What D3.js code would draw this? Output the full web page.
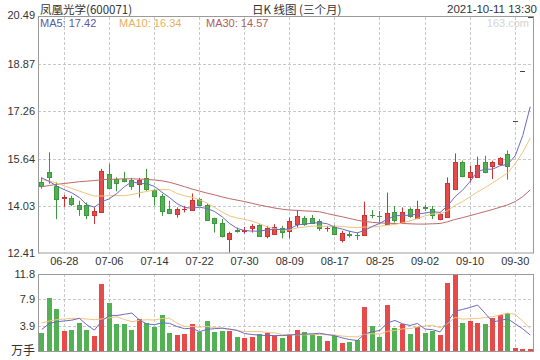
<!DOCTYPE html>
<html><head><meta charset="utf-8">
<script src="https://cdn.jsdelivr.net/npm/d3@7"></script>
<style>
body{margin:0;background:#fff}
svg{display:block}
text{font-family:"Liberation Sans",Arial,sans-serif}
.cjk{font-family:"Noto Sans CJK SC","Liberation Sans",sans-serif}
</style>
</head><body>
<svg id="c" width="540" height="360"></svg>
<script>
// ---- data ----
const openP  = [14.83,15.17,14.71,14.30,14.28,14.06,14.06,13.72,13.83,15.12,14.96,14.94,14.92,14.77,14.98,14.56,14.37,13.93,13.76,13.90,13.88,14.26,14.06,13.60,13.45,12.88,13.20,13.18,13.26,13.37,12.99,13.07,13.25,13.17,13.40,13.62,13.62,13.51,13.25,13.31,12.85,13.07,13.03,13.03,13.72,13.69,13.42,13.83,13.45,13.91,13.60,13.98,13.91,13.57,13.65,14.60,15.51,15.01,15.01,15.51,15.39,15.46,15.80,16.94,18.63,20.49];
const highP  = [15.00,15.86,14.83,14.40,14.37,14.20,14.14,13.97,15.29,15.46,15.00,15.19,14.98,14.98,15.29,14.60,14.43,14.20,13.97,14.02,14.45,14.29,14.10,13.62,13.57,13.14,13.28,13.30,13.40,13.40,13.34,13.40,13.34,13.62,13.88,13.68,13.71,13.57,13.34,13.37,13.17,13.17,13.11,14.17,13.88,13.85,14.48,14.02,13.97,13.97,14.20,14.06,14.02,13.79,15.00,15.82,15.57,15.40,15.71,15.74,15.57,15.69,15.92,16.94,18.63,20.49];
const lowP   = [14.61,14.78,13.57,13.99,14.02,13.68,13.57,13.40,13.80,14.63,14.52,14.83,14.57,14.31,14.54,14.03,13.68,13.76,13.62,13.80,13.85,14.03,13.51,13.11,12.94,12.42,13.11,13.08,13.11,12.96,12.91,13.05,12.91,12.91,13.28,13.34,13.40,13.17,13.14,13.02,12.77,12.94,12.86,12.99,13.60,13.46,13.40,13.45,13.42,13.62,13.57,13.85,13.57,13.53,13.62,14.56,15.00,14.83,15.00,15.14,14.94,15.40,14.92,16.94,18.63,20.49];
const closeP = [14.71,15.00,14.26,14.32,14.08,13.91,13.72,13.85,15.23,14.65,14.79,14.86,14.71,14.92,14.60,14.37,13.85,13.79,13.91,13.92,14.22,14.05,13.53,13.45,12.99,13.09,13.18,13.21,13.34,12.99,13.26,13.31,13.13,13.49,13.68,13.40,13.45,13.25,13.28,13.05,13.11,13.04,13.01,13.72,13.70,13.67,13.77,13.53,13.83,13.68,13.91,13.95,13.71,13.74,14.79,15.51,15.06,15.20,15.44,15.18,15.51,15.65,15.40,16.94,18.63,20.49];
const volume = [2.80,8.17,6.43,3.06,3.17,4.24,3.17,2.30,10.26,7.31,4.14,4.14,3.22,4.90,4.24,3.72,5.52,2.80,2.45,2.60,4.09,2.86,4.60,2.96,3.06,3.11,2.19,2.04,2.19,2.60,2.76,2.30,1.94,2.56,3.22,2.86,2.60,2.35,1.58,2.30,1.18,1.33,1.69,6.69,3.88,2.19,7.05,3.57,4.14,2.60,3.72,2.80,3.06,2.45,10.37,11.75,4.24,4.60,4.24,4.09,5.01,5.52,5.78,0.41,0.26,0.26];
const ma5  = [14.98,14.86,14.70,14.58,14.47,14.31,14.06,13.98,14.16,14.27,14.45,14.68,14.85,14.79,14.78,14.69,14.49,14.31,14.10,13.97,13.94,13.98,13.93,13.83,13.65,13.42,13.25,13.18,13.16,13.16,13.20,13.22,13.21,13.24,13.37,13.40,13.43,13.45,13.41,13.29,13.23,13.15,13.10,13.19,13.32,13.43,13.57,13.68,13.70,13.70,13.74,13.78,13.82,13.80,14.02,14.34,14.56,14.86,15.20,15.28,15.28,15.40,15.44,15.74,16.43,17.42];
const ma10 = [14.92,14.88,14.80,14.71,14.62,14.53,14.44,14.36,14.36,14.37,14.38,14.37,14.41,14.47,14.52,14.57,14.58,14.58,14.45,14.37,14.32,14.23,14.12,13.97,13.81,13.68,13.61,13.56,13.50,13.41,13.31,13.24,13.20,13.20,13.27,13.30,13.33,13.33,13.32,13.33,13.32,13.29,13.28,13.30,13.30,13.33,13.36,13.39,13.44,13.51,13.59,13.68,13.75,13.75,13.86,14.04,14.17,14.34,14.50,14.65,14.81,14.98,15.15,15.47,15.85,16.35];
const ma30 = [14.68,14.72,14.76,14.79,14.82,14.85,14.87,14.89,14.92,14.93,14.94,14.95,14.95,14.94,14.93,14.91,14.88,14.83,14.76,14.68,14.60,14.53,14.46,14.40,14.33,14.27,14.22,14.17,14.11,14.05,14.00,13.95,13.91,13.88,13.87,13.85,13.84,13.82,13.76,13.70,13.65,13.59,13.53,13.49,13.46,13.44,13.43,13.42,13.42,13.41,13.40,13.40,13.41,13.42,13.48,13.56,13.62,13.69,13.76,13.83,13.90,13.98,14.06,14.17,14.34,14.57];
const vma5  = [3.30,4.20,4.50,4.60,4.73,5.01,4.01,3.19,4.63,5.46,5.44,5.63,5.81,4.74,4.13,4.04,4.32,4.24,3.75,3.42,3.49,2.96,3.32,3.42,3.51,3.32,3.18,2.67,2.52,2.43,2.36,2.38,2.36,2.43,2.56,2.58,2.64,2.72,2.52,2.34,2.00,1.75,1.62,2.64,2.95,3.16,4.30,4.68,4.17,3.91,4.22,3.37,3.26,2.93,4.48,6.09,6.37,6.68,7.04,5.78,4.44,4.69,4.93,4.16,3.40,2.45];
const vma10 = [4.30,4.60,4.80,4.90,5.00,5.00,4.90,4.80,4.90,5.09,5.23,4.82,4.50,4.69,4.79,4.74,4.98,5.03,4.24,3.77,3.77,3.64,3.78,3.58,3.47,3.41,3.07,3.00,2.97,2.97,2.84,2.78,2.52,2.48,2.49,2.47,2.51,2.54,2.48,2.45,2.29,2.19,2.17,2.58,2.65,2.58,3.02,3.15,3.40,3.43,3.69,3.83,3.97,3.55,4.20,5.15,4.87,4.97,4.98,5.13,5.26,5.53,5.81,5.60,4.59,3.44];
const priceTicks = [12.41,14.03,15.64,17.26,18.87,20.49];
const volTicks = [3.9,7.9,11.8];
const tickLabels = ["06-28","07-06","07-14","07-22","07-30","08-09","08-17","08-25","09-02","09-10","09-30"];
const maNames = ["MA5","MA10","MA30"];
const maLast = [17.42,16.34,14.57];

// ---- layout ----
const L=38, R=534, pTop=17, pBot=253, vTop=274, vBot=351;
const RED="#e84a4a", GREEN="#52b152", RED_D="#cc3434", GREEN_D="#3d993d", DOJI="#444";
const C5="#6c6cc0", C10="#f0c47e", C30="#bb6a6a";

const svg=d3.select("#c");
const n=closeP.length, idx=d3.range(n);
const x=d3.scaleBand().domain(idx).range([L,R]).paddingInner(0.33).paddingOuter(0.165);
const bw=x.bandwidth();
const cx=i=>x(i)+bw/2;
const px=i=>Math.floor(cx(i))+0.5;
const y=d3.scaleLinear().domain([12.41,20.49]).range([pBot,pTop]);
const yv=d3.scaleLinear().domain([0,11.8]).range([vBot,vTop]);
const tickIdx=tickLabels.map((d,k)=>3+6*k);

// grids
const grid=svg.append("g").attr("stroke","#c8c8c8").attr("stroke-dasharray","3,2").attr("stroke-width",1);
priceTicks.slice(1,-1).forEach(v=>{const yy=Math.round(y(v))+0.5;grid.append("line").attr("x1",L).attr("x2",R).attr("y1",yy).attr("y2",yy);});
volTicks.slice(0,-1).forEach(v=>{const yy=Math.round(yv(v))+0.5;grid.append("line").attr("x1",L).attr("x2",R).attr("y1",yy).attr("y2",yy);});
tickIdx.forEach(i=>{
  grid.append("line").attr("x1",px(i)).attr("x2",px(i)).attr("y1",pTop).attr("y2",pBot);
  grid.append("line").attr("x1",px(i)).attr("x2",px(i)).attr("y1",vTop).attr("y2",vBot);
});

// candles
const cg=svg.append("g");
idx.forEach(i=>{
  const o=openP[i],c=closeP[i];
  const col=c>o?RED:(c<o?GREEN:DOJI), dk=c>o?RED_D:(c<o?GREEN_D:DOJI);
  cg.append("line").attr("x1",px(i)).attr("x2",px(i)).attr("y1",y(highP[i])).attr("y2",y(lowP[i])).attr("stroke",dk).attr("stroke-width",1);
  const top=Math.round(y(Math.max(o,c))), bot=Math.round(y(Math.min(o,c)));
  const x0=Math.round(cx(i)-2.5);
  if(bot-top<1){
    cg.append("line").attr("x1",x0).attr("x2",x0+5).attr("y1",top+0.5).attr("y2",top+0.5).attr("stroke",dk).attr("stroke-width",1);
  } else {
    cg.append("rect").attr("x",x0+0.5).attr("y",top+0.5).attr("width",4).attr("height",bot-top).attr("fill",col).attr("stroke",dk).attr("stroke-width",1);
  }
});

// MA lines (price)
const pline=d3.line().x((d,i)=>cx(i)).y(d=>y(d));
const mg=svg.append("g").attr("fill","none").attr("stroke-width",1);
mg.append("path").attr("d",pline(ma30)).attr("stroke",C30);
mg.append("path").attr("d",pline(ma10)).attr("stroke",C10);
mg.append("path").attr("d",pline(ma5)).attr("stroke",C5);

// volume bars
const vg=svg.append("g");
idx.forEach(i=>{
  const o=openP[i],c=closeP[i];
  const col=c>=o?RED:GREEN;
  const top=Math.round(yv(volume[i]));
  vg.append("rect").attr("x",Math.round(cx(i)-2.5)).attr("y",top).attr("width",5).attr("height",Math.max(1,vBot-top)).attr("fill",col);
});
const vline=d3.line().x((d,i)=>cx(i)).y(d=>yv(d));
const vm=svg.append("g").attr("fill","none").attr("stroke-width",1);
vm.append("path").attr("d",vline(vma10)).attr("stroke",C10);
vm.append("path").attr("d",vline(vma5)).attr("stroke",C5);

// frames
svg.append("rect").attr("x",L+0.5).attr("y",pTop-0.5).attr("width",R-L-1).attr("height",pBot-pTop+0.5).attr("fill","none").attr("stroke","#9a9a9a");
svg.append("rect").attr("x",L+0.5).attr("y",vTop+0.5).attr("width",R-L-1).attr("height",vBot-vTop).attr("fill","none").attr("stroke","#9a9a9a");

// axes
const ay=svg.append("g").attr("transform",`translate(${L},0)`).call(d3.axisLeft(y).tickValues(priceTicks).tickSize(0).tickPadding(3).tickFormat(d3.format(".2f")));
const av=svg.append("g").attr("transform",`translate(${L},0)`).call(d3.axisLeft(yv).tickValues(volTicks).tickSize(0).tickPadding(3).tickFormat(d3.format(".1f")));
const ax=svg.append("g").attr("transform",`translate(0,${pBot})`).call(d3.axisBottom(x).tickValues(tickIdx).tickSize(0).tickPadding(4).tickFormat((d,k)=>tickLabels[k]));
[ay,av,ax].forEach(g=>{g.select(".domain").remove();g.selectAll("text").attr("fill","#333").style("font-size","11px").style("font-family","'Liberation Sans',Arial,sans-serif");});
ay.selectAll(".tick").filter(d=>d===20.49).select("text").attr("dy","0.12em");

svg.append("text").attr("class","cjk").attr("x",35).attr("y",vBot+4).attr("text-anchor","end").attr("font-size",12).attr("fill","#333").text("万手");

// header
svg.append("text").attr("class","cjk").attr("x",40).attr("y",14).attr("font-size",11.5).attr("fill","#333").text("凤凰光学(600071)");
svg.append("text").attr("class","cjk").attr("x",252).attr("y",14).attr("font-size",11.5).attr("fill","#333").text("日K 线图 (三个月)");
svg.append("text").attr("x",537).attr("y",13).attr("text-anchor","end").attr("font-size",11.5).attr("fill","#333").text("2021-10-11 13:30");
const mx=[40,119,206];
maNames.forEach((m,k)=>svg.append("text").attr("x",mx[k]).attr("y",27).attr("font-size",11).attr("fill",k===0?"#5a5aa8":(k===1?"#e6b060":"#b45c5c")).text(`${m}: ${maLast[k].toFixed(2)}`));
svg.append("text").attr("x",529).attr("y",27).attr("text-anchor","end").attr("font-size",11).attr("fill","#d4d4d4").text("163.com");
</script>
</body></html>
